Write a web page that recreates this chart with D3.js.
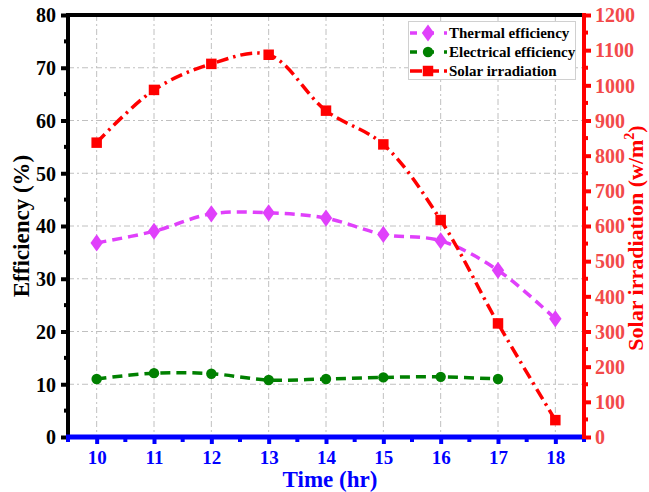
<!DOCTYPE html>
<html>
<head>
<meta charset="utf-8">
<script src="https://cdn.jsdelivr.net/npm/d3@7"></script>
<style>
  html, body { margin: 0; padding: 0; background: #fff; }
  svg { display: block; font-family: "Liberation Serif", "Times New Roman", serif; font-weight: bold; }
</style>
</head>
<body>
<svg id="chart" width="649" height="492"></svg>
<script>
// ---- data ----
const hours = [10, 11, 12, 13, 14, 15, 16, 17, 18];
const thermalEff = [36.8, 39.0, 42.3, 42.5, 41.5, 38.4, 37.2, 31.6, 22.4];
const elecHours = [10, 11, 12, 13, 14, 15, 16, 17];
const electricalEff = [11.0, 12.1, 12.0, 10.8, 11.0, 11.3, 11.4, 11.0];
const solarIrr = [837, 987, 1061, 1087, 928, 832, 617, 323, 48];
const leftTicks = [0, 10, 20, 30, 40, 50, 60, 70, 80];
const rightTicks = [0, 100, 200, 300, 400, 500, 600, 700, 800, 900, 1000, 1100, 1200];
const seriesNames = ["Thermal efficiency", "Electrical efficiency", "Solar irradiation"];

// ---- layout ----
const L = 68, R = 584, T = 15, B = 437;
const svg = d3.select("#chart");

const x = d3.scaleLinear().domain([9.5, 18.5]).range([L, R]);
const yL = d3.scaleLinear().domain([0, 80]).range([B, T]);
const yR = d3.scaleLinear().domain([0, 1200]).range([B, T]);

const MAG = "#e040fb", GRN = "#008000", RED = "#ff0000", BLU = "#0000ff";

// ---- grid ----
const grid = svg.append("g");
grid.selectAll("line.v").data(hours).enter().append("line")
  .attr("x1", d => x(d)).attr("x2", d => x(d)).attr("y1", T).attr("y2", B)
  .attr("stroke", "#c0c0c0").attr("stroke-width", 1).attr("stroke-dasharray", "6,3,2,3");
grid.selectAll("line.h").data(leftTicks.filter(d => d > 0 && d < 80)).enter().append("line")
  .attr("y1", d => yL(d)).attr("y2", d => yL(d)).attr("x1", L).attr("x2", R)
  .attr("stroke", "#c0c0c0").attr("stroke-width", 1).attr("stroke-dasharray", "6,3,2,3");

// ---- axes ----
function styleAxis(g, color, width) {
  g.select(".domain").remove();
  g.selectAll(".tick line").attr("stroke", color).attr("stroke-width", width);
  g.selectAll(".tick text").attr("fill", color);
}
// left
const leftMinor = d3.range(5, 80, 10);
const gl = svg.append("g").attr("transform", `translate(${L},0)`);
gl.call(d3.axisLeft(yL).tickValues(leftTicks).tickSize(7).tickPadding(5).tickFormat(d3.format("d")));
styleAxis(gl, "#000", 4);
gl.selectAll(".tick text").attr("font-size", 20).attr("font-family", "Liberation Serif").attr("font-weight", "bold").attr("dy", "0.34em");
gl.selectAll("line.minor").data(leftMinor).enter().append("line")
  .attr("x1", 0).attr("x2", -4).attr("y1", d => yL(d)).attr("y2", d => yL(d))
  .attr("stroke", "#000").attr("stroke-width", 4);

// right
const rightMinor = d3.range(50, 1200, 100);
const gr = svg.append("g").attr("transform", `translate(${R},0)`);
gr.call(d3.axisRight(yR).tickValues(rightTicks).tickSize(7).tickPadding(4).tickFormat(d3.format("d")));
styleAxis(gr, RED, 4);
gr.selectAll(".tick text").attr("font-size", 20).attr("font-family", "Liberation Serif").attr("font-weight", "bold").attr("dy", "0.34em").attr("fill", "#f24a4a");
gr.selectAll("line.minor").data(rightMinor).enter().append("line")
  .attr("x1", 0).attr("x2", 4).attr("y1", d => yR(d)).attr("y2", d => yR(d))
  .attr("stroke", RED).attr("stroke-width", 4);

// bottom
const bottomMinor = d3.range(9.5, 18.6, 1);
const gb = svg.append("g").attr("transform", `translate(0,${B})`);
gb.call(d3.axisBottom(x).tickValues(hours).tickSize(7).tickPadding(7).tickFormat(d3.format("d")));
styleAxis(gb, BLU, 4);
gb.selectAll(".tick text").attr("font-size", 19).attr("font-family", "Liberation Serif").attr("font-weight", "bold");
gb.selectAll("line.minor").data(bottomMinor).enter().append("line")
  .attr("x1", d => x(d)).attr("x2", d => x(d)).attr("y1", 0).attr("y2", 5)
  .attr("stroke", BLU).attr("stroke-width", 4);

// frame lines
svg.append("line").attr("x1", L - 2).attr("x2", R).attr("y1", T).attr("y2", T).attr("stroke", "#000").attr("stroke-width", 4);
svg.append("line").attr("x1", L).attr("x2", L).attr("y1", T - 2).attr("y2", B).attr("stroke", "#000").attr("stroke-width", 4);
svg.append("line").attr("x1", R).attr("x2", R).attr("y1", T - 2).attr("y2", B + 2).attr("stroke", RED).attr("stroke-width", 4);
svg.append("line").attr("x1", L - 2).attr("x2", R - 2).attr("y1", B).attr("y2", B).attr("stroke", BLU).attr("stroke-width", 5);

// ---- series ----
const curve = d3.curveCatmullRom.alpha(0.5);
const thermalPts = hours.map((h, i) => [h, thermalEff[i]]);
const elecPts = elecHours.map((h, i) => [h, electricalEff[i]]);
const solarPts = hours.map((h, i) => [h, solarIrr[i]]);

const lineL = d3.line().x(d => x(d[0])).y(d => yL(d[1])).curve(curve);
const lineR = d3.line().x(d => x(d[0])).y(d => yR(d[1])).curve(curve);

const DASH_T = "10,6", DASH_E = "10,6", DASH_S = "12,5,2.5,5";

svg.append("path").attr("d", lineL(thermalPts)).attr("fill", "none").attr("stroke", MAG).attr("stroke-width", 3.5).attr("stroke-dasharray", DASH_T);
svg.append("path").attr("d", lineL(elecPts)).attr("fill", "none").attr("stroke", GRN).attr("stroke-width", 3.5).attr("stroke-dasharray", DASH_E);
svg.append("path").attr("d", lineR(solarPts)).attr("fill", "none").attr("stroke", RED).attr("stroke-width", 3.5).attr("stroke-dasharray", DASH_S);

const diamond = d3.symbol().type(d3.symbolDiamond).size(85);
const square = d3.symbol().type(d3.symbolSquare).size(110);
const circle = d3.symbol().type(d3.symbolCircle).size(85);

svg.selectAll("path.th").data(thermalPts).enter().append("path")
  .attr("d", diamond).attr("transform", d => `translate(${x(d[0])},${yL(d[1])}) scale(1.25,1)`).attr("fill", MAG);
svg.selectAll("path.el").data(elecPts).enter().append("path")
  .attr("d", circle).attr("transform", d => `translate(${x(d[0])},${yL(d[1])})`).attr("fill", GRN);
svg.selectAll("path.so").data(solarPts).enter().append("path")
  .attr("d", square).attr("transform", d => `translate(${x(d[0])},${yR(d[1])})`).attr("fill", RED);

// ---- legend ----
const lg = svg.append("g");
lg.append("rect").attr("x", 408.5).attr("y", 21.5).attr("width", 167).attr("height", 58)
  .attr("fill", "#fff").attr("stroke", "#d0d0d0").attr("stroke-width", 1);
const legendRows = [
  { name: seriesNames[0], color: MAG, dash: DASH_T, sym: diamond, sx: 1.25 },
  { name: seriesNames[1], color: GRN, dash: DASH_E, sym: circle, sx: 1 },
  { name: seriesNames[2], color: RED, dash: DASH_S, sym: square, sx: 1 }
];
legendRows.forEach((r, i) => {
  const cy = 33 + i * 19;
  lg.append("line").attr("x1", 410).attr("x2", 447).attr("y1", cy).attr("y2", cy)
    .attr("stroke", r.color).attr("stroke-width", 3.5).attr("stroke-dasharray", i === 2 ? "12,5,0,0" : "7,10");
  lg.append("path").attr("d", r.sym).attr("transform", `translate(428,${cy}) scale(${r.sx},1)`).attr("fill", r.color);
  lg.append("text").attr("x", 449).attr("y", cy + 5).attr("font-size", 15).attr("fill", "#000").text(r.name);
});

// ---- titles ----
svg.append("text").attr("transform", `translate(29,${(T + B) / 2}) rotate(-90)`)
  .attr("text-anchor", "middle").attr("font-size", 23).attr("fill", "#000").text("Efficiency (%)");
const rt = svg.append("text").attr("transform", `translate(643,238) rotate(-90)`)
  .attr("text-anchor", "middle").attr("font-size", 22).attr("fill", RED);
rt.append("tspan").text("Solar irradiation (w/m");
rt.append("tspan").attr("font-size", 14).attr("dy", -9).text("2");
rt.append("tspan").attr("dy", 9).text(")");
svg.append("text").attr("x", (L + R) / 2 + 4).attr("y", 487).attr("text-anchor", "middle")
  .attr("font-size", 23).attr("fill", BLU).text("Time (hr)");
</script>
</body>
</html>
